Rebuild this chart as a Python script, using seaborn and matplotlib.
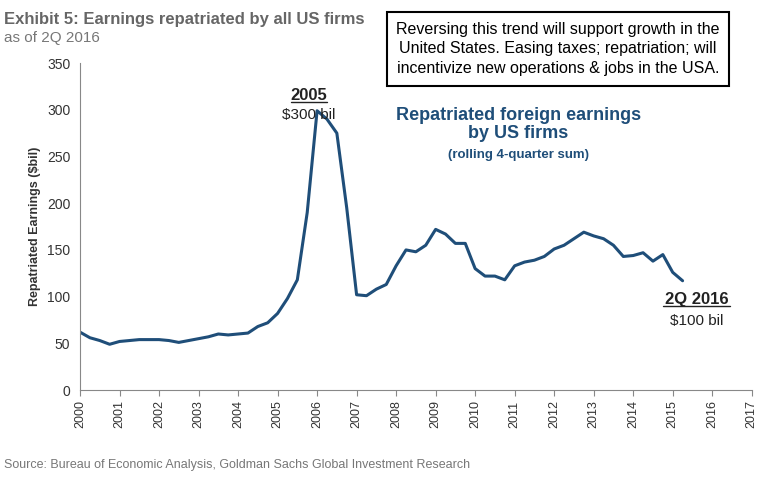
import numpy as np
import pandas as pd
import matplotlib
matplotlib.use("Agg")
import matplotlib.pyplot as plt
import seaborn as sns

start_year = 2000
earnings = [62, 56, 53, 49, 52, 53, 54, 54, 54, 53, 51, 53, 55, 57, 60, 59,
            60, 61, 68, 72, 82, 98, 118, 190, 299, 290, 275, 195, 102, 101, 108, 113,
            133, 150, 148, 155, 172, 167, 157, 157, 130, 122, 122, 118, 133, 137, 139, 143,
            151, 155, 162, 169, 165, 162, 155, 143, 144, 147, 138, 145, 126, 117]
years = [start_year + i * 0.25 for i in range(len(earnings))]
df = pd.DataFrame({"year": years, "earnings": earnings})

sns.set_style("white")
plt.rcParams['font.family'] = ['Liberation Sans', 'DejaVu Sans']

fig = plt.figure(figsize=(7.73, 4.78), dpi=100)
ax = fig.add_axes([0.1035, 0.184, 0.869, 0.684])
sns.lineplot(data=df, x="year", y="earnings", ax=ax, color="#1f4e79", linewidth=2.2)

ax.set_xlim(2000, 2017)
ax.set_ylim(0, 350)
ax.set_xticks(range(2000, 2018))
ax.set_xticklabels([str(y) for y in range(2000, 2018)], rotation=90, fontsize=9, color="#333333")
ax.set_yticks(range(0, 351, 50))
ax.tick_params(axis='y', labelsize=10, colors="#333333")
ax.set_xlabel("")
ax.set_ylabel("Repatriated Earnings ($bil)", fontsize=9, fontweight="bold", color="#333333")
for s in ["top", "right"]:
    ax.spines[s].set_visible(False)
for s in ["left", "bottom"]:
    ax.spines[s].set_color("#888888")
ax.tick_params(axis='x', length=4, color="#888888", bottom=True)

ax.text(2005.8, 310, "2005", ha="center", fontsize=12, fontweight="bold", color="#222222")
ax.plot([2005.35, 2006.25], [308, 308], color="#222222", lw=1)
ax.text(2005.8, 290, "$300 bil", ha="center", fontsize=11, color="#222222")
ax.text(2015.6, 92, "2Q 2016", ha="center", fontsize=12, fontweight="bold", color="#222222")
ax.plot([2014.75, 2016.45], [90, 90], color="#222222", lw=1)
ax.text(2015.6, 70, "$100 bil", ha="center", fontsize=11, color="#222222")
ax.text(2011.1, 270, "Repatriated foreign earnings\nby US firms", ha="center", fontsize=13,
        fontweight="bold", color="#1f4e79", linespacing=1.1)
ax.text(2011.1, 248, "(rolling 4-quarter sum)", ha="center", fontsize=9.5,
        fontweight="bold", color="#1f4e79")

fig.text(0.005, 0.975, "Exhibit 5: Earnings repatriated by all US firms", fontsize=12,
         fontweight="bold", color="#666666", va="top")
fig.text(0.005, 0.935, "as of 2Q 2016", fontsize=11, color="#777777", va="top")
fig.text(0.005, 0.02, "Source: Bureau of Economic Analysis, Goldman Sachs Global Investment Research",
         fontsize=9, color="#777777")
fig.text(0.722, 0.955, "Reversing this trend will support growth in the\nUnited States. Easing taxes; repatriation; will\nincentivize new operations & jobs in the USA.",
         ha="center", va="top", fontsize=11.5, color="black", linespacing=1.4,
         bbox=dict(boxstyle="square,pad=0.6", fc="white", ec="black", lw=1.5))

fig.savefig("out.png", dpi=100)
